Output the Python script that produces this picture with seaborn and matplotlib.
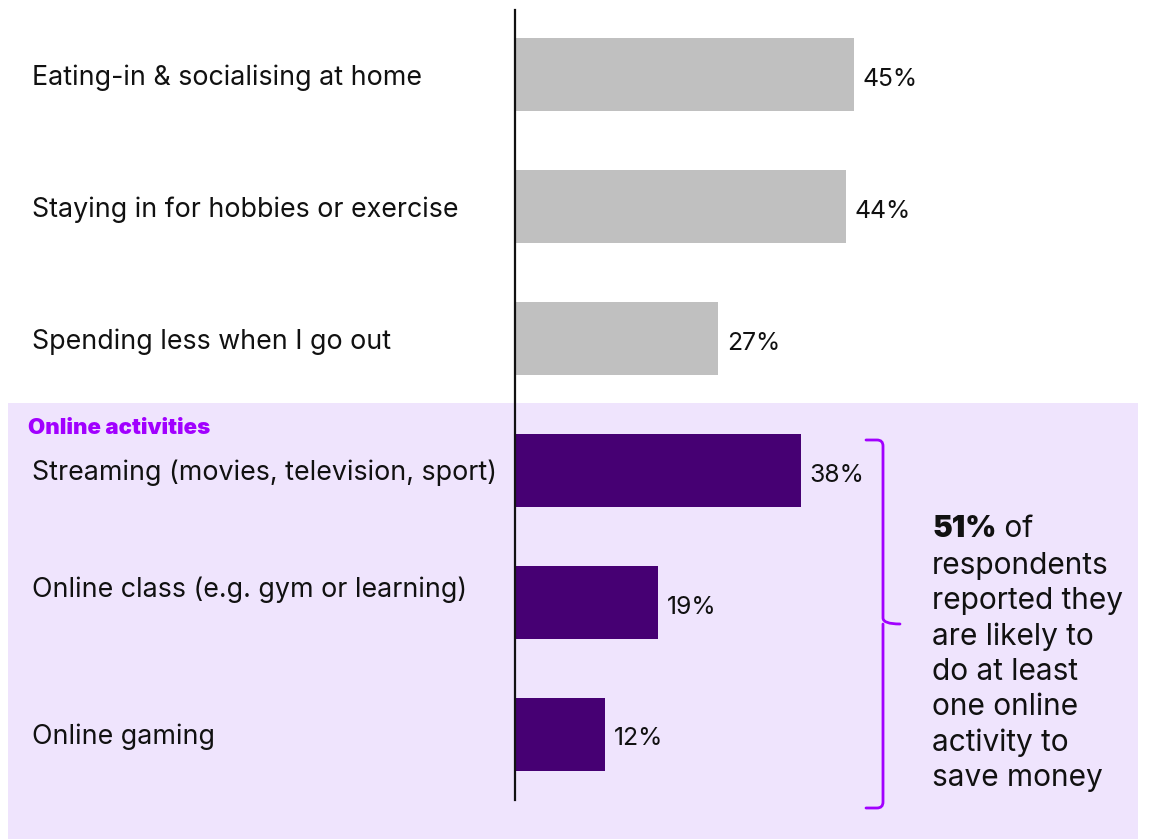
import matplotlib
matplotlib.use("Agg")
import matplotlib.pyplot as plt
import matplotlib.patches as mpatches
import matplotlib.transforms as mtransforms
from matplotlib.text import Annotation
from matplotlib.path import Path
import seaborn as sns
import pandas as pd

# Survey results: ways people plan to save money on leisure
categories = [
    "Eating-in & socialising at home",
    "Staying in for hobbies or exercise",
    "Spending less when I go out",
    "Streaming (movies, television, sport)",
    "Online class (e.g. gym or learning)",
    "Online gaming",
]
values = [45, 44, 27, 38, 19, 12]
groups = ["Offline", "Offline", "Offline", "Online", "Online", "Online"]
section_title = "Online activities"
callout_value = "51%"
callout_lines = ["respondents", "reported they", "are likely to",
                 "do at least", "one online", "activity to", "save money"]

GREY = "#C0C0C0"
DEEP_PURPLE = "#460073"
BRIGHT_PURPLE = "#A100FF"
LAVENDER = "#EFE4FD"
TEXT = "#111111"
FONT = ["Inter", "DejaVu Sans"]

sns.set_theme(style="white")
plt.rcParams["font.family"] = FONT

W, H = 1153, 839
fig = plt.figure(figsize=(W / 100, H / 100), dpi=100)
fig.patch.set_facecolor("white")


def fx(px):
    return px / W


def fy(py):
    return 1 - py / H


# shaded panel behind the online group
fig.patches.append(mpatches.Rectangle((fx(8), 0), fx(1138) - fx(8), fy(403),
                                      transform=fig.transFigure,
                                      facecolor=LAVENDER, edgecolor="none", zorder=-5))

ax = fig.add_axes([fx(515), fy(800), fx(1153) - fx(515), fy(10) - fy(800)])
ax.set_zorder(2)
ax.set_facecolor("none")

df = pd.DataFrame({"category": categories, "value": values, "group": groups})
sns.barplot(data=df, x="value", y="category", hue="group", orient="h",
            palette={"Offline": GREY, "Online": DEEP_PURPLE},
            dodge=False, width=0.553, legend=False, ax=ax, saturation=1,
            linewidth=0)

ax.set_xlim(0, 638 / 7.53)
ax.set_ylim(5.5, -0.49)
ax.set_xlabel("")
ax.set_ylabel("")
ax.set_xticks([])
ax.set_yticks([])
for s in ["top", "right", "bottom"]:
    ax.spines[s].set_visible(False)
ax.spines["left"].set_color("#111111")
ax.spines["left"].set_linewidth(1.6)

# value labels at bar ends
for i, v in enumerate(values):
    ax.annotate(f"{v}%", xy=(v, i), xytext=(6, -3.5), textcoords="offset points",
                va="center", ha="left", fontsize=17.8, color=TEXT)

# category labels on the left
label_shift = [3, 3, 3, 2, -12, 3]
blend = mtransforms.blended_transform_factory(fig.transFigure, ax.transData)
for i, (c, dy) in enumerate(zip(categories, label_shift)):
    tr = blend + mtransforms.ScaledTranslation(0, -dy / 100, fig.dpi_scale_trans)
    fig.text(fx(32), i, c, transform=tr, va="center", ha="left",
             fontsize=19.3, color=TEXT, zorder=3)

fig.text(fx(28), fy(428), section_title, va="center", ha="left",
         fontsize=16, fontweight="black", color=BRIGHT_PURPLE, zorder=3)

# curly brace grouping the online bars
top, mid, bot = 440, 624, 808
xl, xs, xt = 866, 883, 900
r = 6
verts = [
    (xl, top), (xs - r, top), (xs, top), (xs, top + r),
    (xs, mid - r), (xs, mid), (xt, mid),
    (xs, mid), (xs, mid + r),
    (xs, bot - r), (xs, bot), (xs - r, bot), (xl, bot),
]
codes = [Path.MOVETO, Path.LINETO, Path.CURVE3, Path.CURVE3,
         Path.LINETO, Path.CURVE3, Path.CURVE3,
         Path.MOVETO, Path.LINETO,
         Path.LINETO, Path.CURVE3, Path.CURVE3, Path.LINETO]
verts_fig = [(fx(x), fy(y)) for x, y in verts]
fig.patches.append(mpatches.PathPatch(Path(verts_fig, codes), transform=fig.transFigure,
                                      fill=False, edgecolor=BRIGHT_PURPLE,
                                      linewidth=2, capstyle="round", zorder=3))

# callout text
t0 = fig.text(fx(932), fy(529), callout_value, va="center", ha="left",
              fontsize=21.5, fontweight="black", color=TEXT, zorder=3)
of_text = Annotation(" of", xy=(1, 0.5), xycoords=t0, va="center", ha="left",
                     fontsize=21.5, color=TEXT, annotation_clip=False)
of_text.set_figure(fig)
fig.texts.append(of_text)
for k, line in enumerate(callout_lines):
    fig.text(fx(932), fy(566 + 35.3 * k), line, va="center", ha="left",
             fontsize=21.5, color=TEXT, zorder=3)

fig.savefig("out.png", dpi=100)
